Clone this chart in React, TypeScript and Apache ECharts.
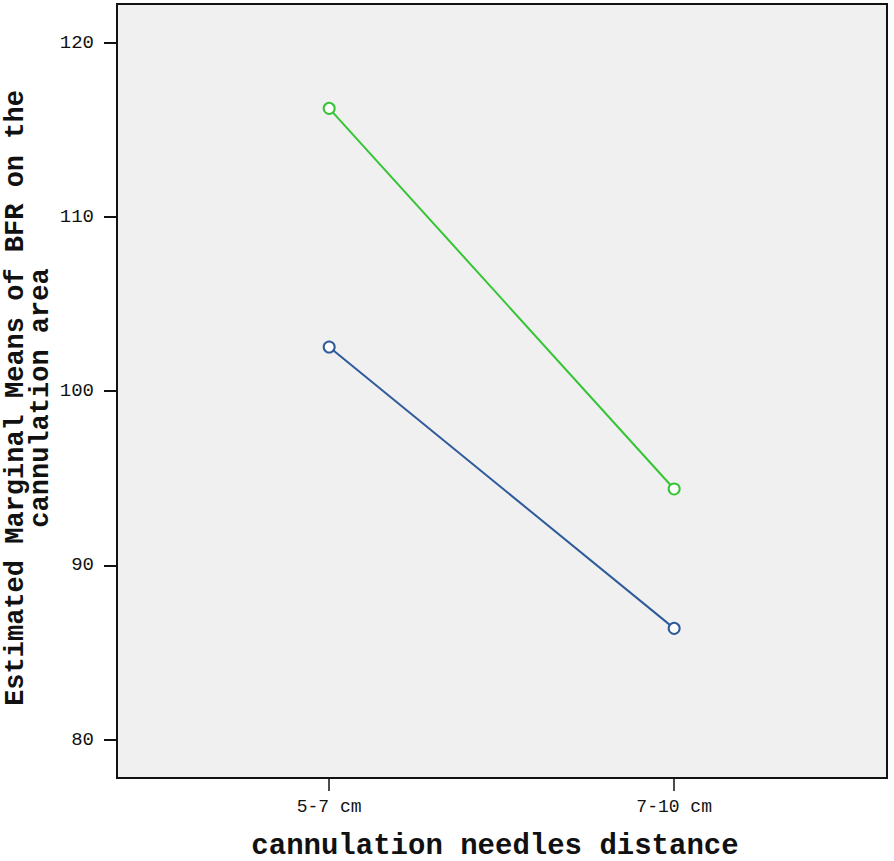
import React, { useEffect, useRef } from "react";
import * as echarts from "echarts";

const categories = ["5-7 cm", "7-10 cm"];
const greenSeries = [116.23, 94.38];
const blueSeries = [102.53, 86.38];
const yTicks = [80, 90, 100, 110, 120];
const yTitleLines = ["Estimated Marginal Means of BFR on the", "cannulation area"];
const xTitle = "cannulation needles distance";

const FONT = "'Liberation Mono', 'DejaVu Sans Mono', monospace";

export default function App() {
  const ref = useRef<HTMLDivElement>(null);
  useEffect(() => {
    if (!ref.current) return;
    const chart = echarts.init(ref.current, null, { renderer: "svg" });
    const xIdx = categories.map((_, i) => i);
    const mk = (vals: number[]) => vals.map((v, i) => [xIdx[i], v]);
    chart.setOption({
      animation: false,
      backgroundColor: "#ffffff",
      grid: {
        left: 117,
        right: 7,
        top: 4,
        bottom: 83,
        show: true,
        backgroundColor: "#f0f0f0",
        borderColor: "#111",
        borderWidth: 2,
        containLabel: false,
        outerBoundsMode: "none",
      },
      xAxis: {
        type: "value",
        min: -0.615,
        max: 1.617,
        splitLine: { show: false },
        axisLine: { show: true, onZero: false, lineStyle: { color: "#111", width: 2 } },
        axisTick: {
          show: true,
          customValues: xIdx,
          length: 13,
          lineStyle: { color: "#111", width: 1.5 },
        },
        axisLabel: {
          customValues: xIdx,
          formatter: (v: number) => categories[Math.round(v)] ?? "",
          margin: 20,
          fontFamily: FONT,
          fontSize: 18,
          color: "#111",
        },
      },
      yAxis: {
        type: "value",
        min: 77.79,
        max: 122.22,
        splitLine: { show: false },
        axisLine: { show: true, onZero: false, lineStyle: { color: "#111", width: 2 } },
        axisTick: {
          show: true,
          customValues: yTicks,
          length: 13,
          lineStyle: { color: "#111", width: 2 },
        },
        axisLabel: {
          customValues: yTicks,
          margin: 23,
          fontFamily: FONT,
          fontSize: 19,
          color: "#111",
        },
      },
      graphic: [
        {
          type: "text",
          x: 16,
          y: 398,
          rotation: Math.PI / 2,
          style: {
            text: yTitleLines[0],
            fontFamily: FONT,
            fontSize: 27,
            fontWeight: "bold",
            fill: "#111",
            align: "center",
            verticalAlign: "middle",
          },
        },
        {
          type: "text",
          x: 41,
          y: 398,
          rotation: Math.PI / 2,
          style: {
            text: yTitleLines[1],
            fontFamily: FONT,
            fontSize: 27,
            fontWeight: "bold",
            fill: "#111",
            align: "center",
            verticalAlign: "middle",
          },
        },
        {
          type: "text",
          x: 495,
          y: 846,
          style: {
            text: xTitle,
            fontFamily: FONT,
            fontSize: 29,
            fontWeight: "bold",
            fill: "#111",
            align: "center",
            verticalAlign: "middle",
          },
        },
      ],
      series: [
        {
          type: "line",
          data: mk(greenSeries),
          symbol: "emptyCircle",
          symbolSize: 11,
          lineStyle: { color: "#35c435", width: 2 },
          itemStyle: { color: "#35c435", borderWidth: 2 },
        },
        {
          type: "line",
          data: mk(blueSeries),
          symbol: "emptyCircle",
          symbolSize: 11,
          lineStyle: { color: "#2d5a9a", width: 2 },
          itemStyle: { color: "#2d5a9a", borderWidth: 2 },
        },
      ],
    });
    return () => chart.dispose();
  }, []);
  return <div ref={ref} style={{ width: 894, height: 861, position: "absolute", left: 0, top: 0 }} />;
}
